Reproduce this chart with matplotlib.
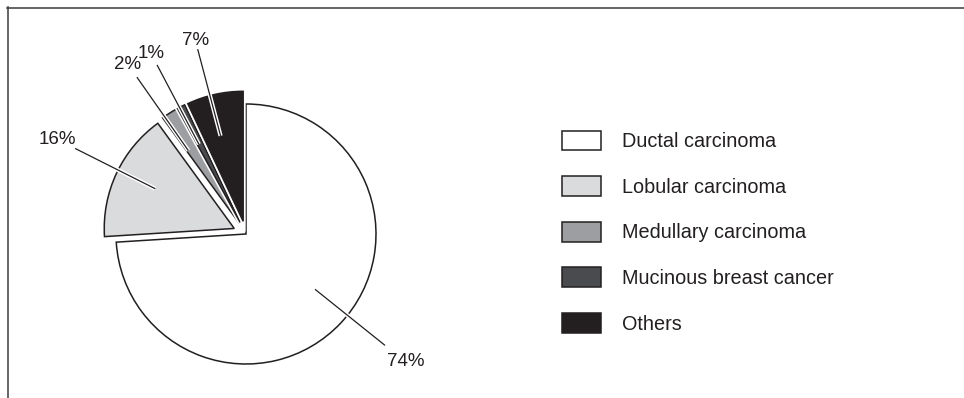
import numpy as np
import matplotlib.pyplot as plt
import matplotlib.patheffects as pe

# Breast cancer subtypes, share in percent
labels = ["Ductal carcinoma", "Lobular carcinoma", "Medullary carcinoma",
          "Mucinous breast cancer", "Others"]
shares = [74, 16, 2, 1, 7]
colors = ["#ffffff", "#dadbdd", "#9d9ea2", "#4a4b4e", "#231f20"]
explode = [0.0, 0.1, 0.1, 0.1, 0.1]   # fraction of the radius

# small angular nudges for the leader lines (degrees) and label distances
nudge = [4.5, -1.5, 2.6, 0.8, 2.2]
label_r = [1.57, 1.52, 1.49, 1.47, 1.44]

W, H = 964, 398
ink = "#231f20"

fig = plt.figure(figsize=(W / 100, H / 100), dpi=100)
ax = fig.add_axes([0, 0, 1, 1])

R = 130
cx, cy = 246, H - 234

# white halo round each wedge keeps thin gaps between neighbours
halo = [pe.Stroke(linewidth=3.5, foreground="white"), pe.Normal()]
wedges, _ = ax.pie(shares, colors=colors, explode=[e * R for e in explode],
                   startangle=90, counterclock=False, radius=R, center=(cx, cy),
                   wedgeprops=dict(edgecolor=ink, linewidth=1.1))
for w in wedges:
    w.set_path_effects(halo)

ax.set_xlim(0, W)
ax.set_ylim(0, H)
ax.set_aspect("equal")
ax.axis("off")

# percent labels with leader lines
for w, val, dn, lr in zip(wedges, shares, nudge, label_r):
    ang = np.deg2rad((w.theta1 + w.theta2) / 2 + dn)
    wx, wy = w.center
    d = np.array([np.cos(ang), np.sin(ang)])
    p0 = (wx + 0.68 * R * d[0], wy + 0.68 * R * d[1])
    p1 = (wx + 1.37 * R * d[0], wy + 1.37 * R * d[1])
    ax.plot([p0[0], p1[0]], [p0[1], p1[1]], color=ink, lw=0.9,
            solid_capstyle="butt",
            path_effects=[pe.Stroke(linewidth=3, foreground="white"), pe.Normal()])
    ax.text(wx + lr * R * d[0], wy + lr * R * d[1], f"{val}%",
            ha="center", va="center", fontsize=13.5, color=ink,
            family=["Liberation Sans Narrow", "Liberation Sans"])

# thin frame along top and left
ax.plot([7, W], [H - 7.5, H - 7.5], color="#3c3c3c", lw=1.1)
ax.plot([7.5, 7.5], [H - 7, 0], color="#3c3c3c", lw=1.1)

fs = 14.3
px = fs * 100 / 72
ax.legend(wedges, labels, loc="upper left",
          bbox_to_anchor=(562 / W, 1 - 130.5 / H), bbox_transform=fig.transFigure,
          frameon=False, borderpad=0, borderaxespad=0,
          handlelength=39 / px, handleheight=23 / px,
          handletextpad=21 / px, labelspacing=25 / px,
          prop=dict(family="Liberation Sans", size=fs),
          labelcolor=ink)

fig.savefig("out.png", dpi=100)
